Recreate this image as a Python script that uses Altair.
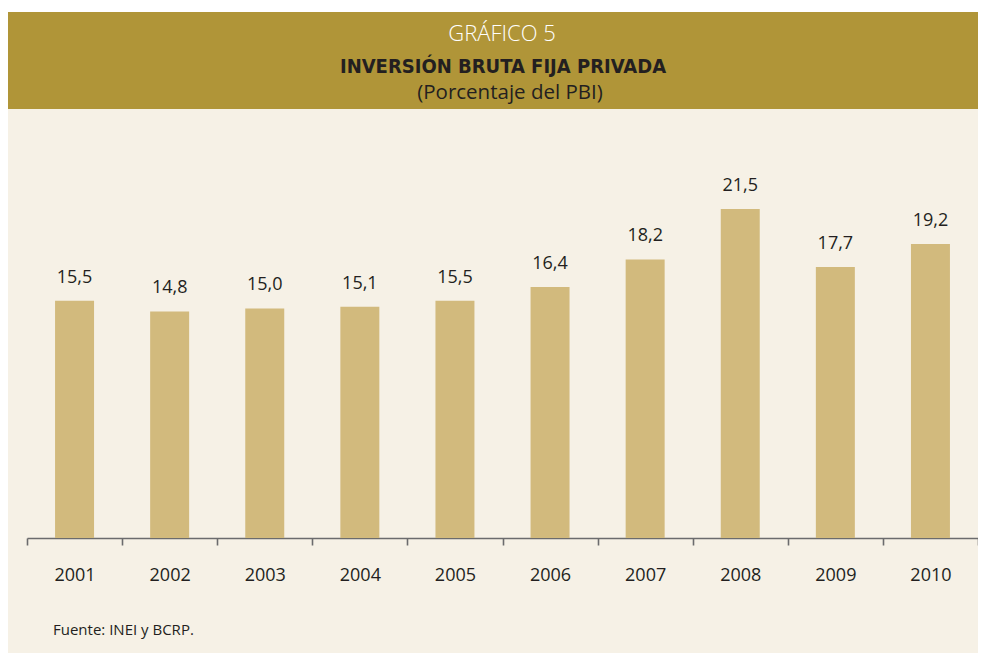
import altair as alt
import pandas as pd

years = ["2001", "2002", "2003", "2004", "2005", "2006", "2007", "2008", "2009", "2010"]
values = [15.5, 14.8, 15.0, 15.1, 15.5, 16.4, 18.2, 21.5, 17.7, 19.2]

title_1 = "GRÁFICO 5"
title_2 = "INVERSIÓN BRUTA FIJA PRIVADA"
title_3 = "(Porcentaje del PBI)"
source = "Fuente: INEI y BCRP."

df = pd.DataFrame({"year": years, "value": values})
df["label"] = [f"{v:.1f}".replace(".", ",") for v in values]

W, H = 951, 398
GOLD = "#b09538"
CREAM = "#f6f1e6"
BAR = "#d2ba7d"
DARK = "#231f20"
GRAY = "#6b6b6d"
FONT = "Open Sans"

one = pd.DataFrame({"k": [0]})

bar_scale = alt.Scale(paddingInner=0.59, paddingOuter=0.295)
y_enc = alt.Y("value:Q", scale=alt.Scale(domain=[0, 26], nice=False), axis=None)

# axis layer: band scale without padding so ticks sit on category boundaries
axis_layer = alt.Chart(df).mark_tick(opacity=0).encode(
    x=alt.X("year:N", sort=years, title=None,
            scale=alt.Scale(paddingInner=0, paddingOuter=0),
            axis=alt.Axis(labelAngle=0, tickBand="extent", tickSize=7,
                          tickColor=GRAY, domainColor=GRAY, domainWidth=1.6,
                          tickWidth=1.6, labelFontSize=18, labelFont=FONT,
                          labelFontWeight=500,
                          labelColor=DARK, labelPadding=21, grid=False)),
    y=y_enc)

white_strip = alt.Chart(one).mark_rect(color="white").encode(
    x=alt.value(-19), x2=alt.value(W), y=alt.value(-132), y2=alt.value(-128))
band = alt.Chart(one).mark_rect(color=GOLD).encode(
    x=alt.value(-19), x2=alt.value(W), y=alt.value(-128), y2=alt.value(-31))

bars = alt.Chart(df).mark_bar(color=BAR).encode(
    x=alt.X("year:N", sort=years, scale=bar_scale, axis=None), y=y_enc)
labels = alt.Chart(df).mark_text(baseline="alphabetic", dy=-18, fontSize=18,
                                 font=FONT, fontWeight=500, color=DARK).encode(
    x=alt.X("year:N", sort=years, scale=bar_scale, axis=None),
    y=y_enc, text="label:N")

t1 = alt.Chart(one).mark_text(text=title_1, fontSize=22, font=FONT, fontWeight=300,
                              color="white", baseline="middle", align="center").encode(
    x=alt.value(475), y=alt.value(-106))
t2 = alt.Chart(one).mark_text(text=title_2, fontSize=20, fontWeight="bold",
                              font="DejaVu Sans Condensed, sans-serif",
                              color=DARK, baseline="middle", align="center").encode(
    x=alt.value(476), y=alt.value(-73))
t3 = alt.Chart(one).mark_text(text=title_3, fontSize=20.5, font=FONT,
                              color=DARK, baseline="middle", align="center").encode(
    x=alt.value(483), y=alt.value(-47))
src = alt.Chart(one).mark_text(text=source, fontSize=15, font=FONT,
                               color=DARK, baseline="middle", align="left").encode(
    x=alt.value(26), y=alt.value(490))

chart = alt.layer(white_strip, band, axis_layer, bars, labels, t1, t2, t3, src).resolve_scale(
    x="independent"
).properties(
    width=W, height=H,
    padding={"left": 19, "top": 132, "right": 0, "bottom": 115},
    autosize=alt.AutoSizeParams(type="none"),
).configure(background=CREAM).configure_view(stroke=None)

chart.save("out.html", embed_options={"renderer": "svg", "actions": False})
